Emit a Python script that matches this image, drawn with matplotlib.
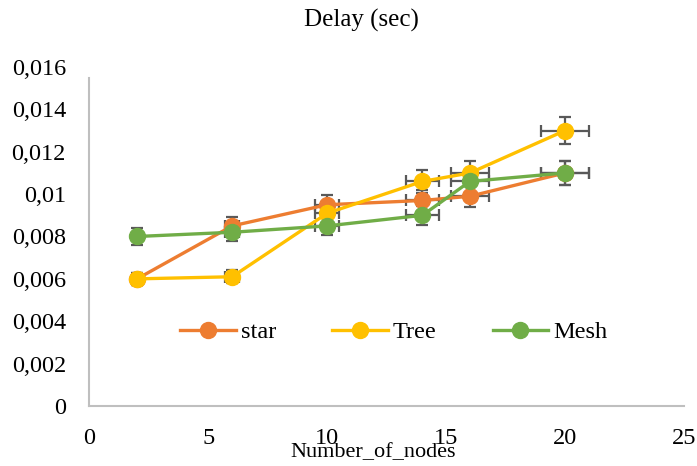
import matplotlib
matplotlib.use("Agg")
import matplotlib.pyplot as plt
from matplotlib.ticker import FuncFormatter, MultipleLocator

plt.rcParams["font.family"] = ["Liberation Serif", "DejaVu Serif"]

# data
nodes = [2, 6, 10, 14, 16, 20]
star = [0.0060, 0.0085, 0.0095, 0.0097, 0.0099, 0.0110]
tree = [0.0060, 0.0061, 0.0091, 0.0106, 0.0110, 0.0130]
mesh = [0.0080, 0.0082, 0.0085, 0.0090, 0.0106, 0.0110]
series_names = ["star", "Tree", "Mesh"]
ERR_FRAC = 0.05  # Excel-style percentage error bars, both directions

COLORS = ["#ED7D31", "#FFC000", "#70AD47"]

fig = plt.figure(figsize=(6.97, 4.66), dpi=100)
ax = fig.add_axes([0.1284, 0.1288, 0.8529, 0.7274])

for vals, name, c in zip([star, tree, mesh], series_names, COLORS):
    ax.errorbar(nodes, vals,
                xerr=[x * ERR_FRAC for x in nodes],
                yerr=[v * ERR_FRAC for v in vals],
                fmt="none", ecolor="#595959", elinewidth=1.6,
                capsize=4.3, capthick=1.6, zorder=2)
    ax.plot(nodes, vals, "-o", color=c, lw=2.4, ms=11.5, label=name, zorder=3)

ax.set_xlim(0, 25)
ax.set_ylim(0, 0.016)
ax.xaxis.set_major_locator(MultipleLocator(5))
ax.yaxis.set_major_locator(MultipleLocator(0.002))
ax.yaxis.set_major_formatter(FuncFormatter(
    lambda v, p: "0" if abs(v) < 1e-12 else f"{v:.3f}".rstrip("0").replace(".", ",")))
ax.tick_params(length=0, labelsize=17.5)
ax.tick_params(axis="y", pad=17)
ax.tick_params(axis="x", pad=15.5)
for s in ["top", "right"]:
    ax.spines[s].set_visible(False)
for s in ["left", "bottom"]:
    ax.spines[s].set_color("#BFBFBF")
    ax.spines[s].set_linewidth(1.5)
ax.spines["left"].set_bounds(0, 0.0155)

fig.text(0.518, 0.957, "Delay (sec)", ha="center", va="center", fontsize=18)
fig.text(0.535, 0.028, "Number_of_nodes", ha="center", va="center", fontsize=16)

ax.legend(loc="center", bbox_to_anchor=(0.565, 0.287), bbox_transform=fig.transFigure,
          ncol=3, frameon=False, fontsize=17.5, handlelength=2.3,
          handletextpad=0.2, columnspacing=2.3)

fig.savefig("out.png", dpi=100)
